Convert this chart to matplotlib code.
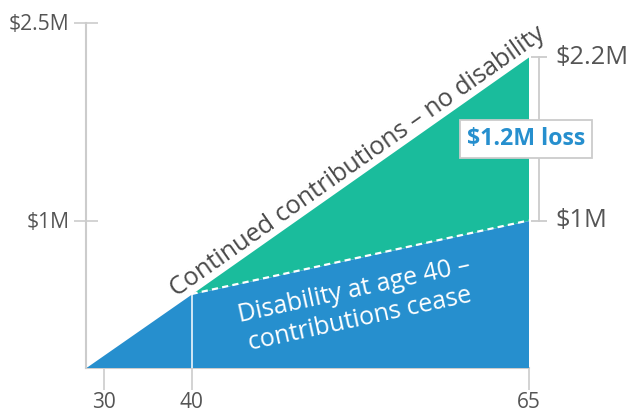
import numpy as np
import matplotlib
matplotlib.use('Agg')
import matplotlib.pyplot as plt
import matplotlib.transforms as mtransforms

# ---- data ----
ages = [28, 40, 65]
continued = [0.0, 0.5, 2.2]      # $M, contributions continue
disability = [0.0, 0.5, 1.0]     # $M, contributions cease at 40
x_ticks = [30, 40, 65]
x_tick_labels = ['30', '40', '65']
y_ticks = [1.0, 2.5]
y_tick_labels = [r'\$1M', r'\$2.5M']
end_values = [2.2, 1.0]
end_labels = [r'\$2.2M', r'\$1M']
loss_label = r'\$1.2M loss'
top_label = 'Continued contributions – no disability'
bottom_label = 'Disability at age 40 –\ncontributions cease'

# illustrative (non-uniform) axis spacing used by the original graphic
X_ANCHORS = [28, 30, 40, 65]
X_POS = [0, 17.5, 105.5, 442.5]
Y_ANCHORS = [0, 1, 2.2, 2.5]
Y_POS = [0, 147, 310.5, 345]


def piecewise(xs, ys):
    xs = np.asarray(xs, float); ys = np.asarray(ys, float)
    def f(v):
        v = np.asarray(v, float)
        out = np.interp(v, xs, ys)
        lo = v < xs[0]; hi = v > xs[-1]
        s0 = (ys[1] - ys[0]) / (xs[1] - xs[0])
        s1 = (ys[-1] - ys[-2]) / (xs[-1] - xs[-2])
        out = np.where(lo, ys[0] + (v - xs[0]) * s0, out)
        out = np.where(hi, ys[-1] + (v - xs[-1]) * s1, out)
        return out
    return f

BLUE = '#268fce'
GREEN = '#1abc9c'
GREY = '#cccccc'
TXT = '#555555'

plt.rcParams['font.family'] = ['Open Sans', 'DejaVu Sans']

fig = plt.figure(figsize=(6.28, 4.12), dpi=100)
ax = fig.add_axes([86 / 628, (412 - 367.5) / 412, (528.5 - 86) / 628, 345 / 412])
ax.set_xscale('function', functions=(piecewise(X_ANCHORS, X_POS), piecewise(X_POS, X_ANCHORS)))
ax.set_yscale('function', functions=(piecewise(Y_ANCHORS, Y_POS), piecewise(Y_POS, Y_ANCHORS)))
ax.set_xlim(ages[0], ages[-1])
ax.set_ylim(0, 2.5)

# areas
ax.fill_between(ages, disability, continued, color=GREEN, lw=0, zorder=1)
ax.fill_between(ages, 0, disability, color=BLUE, lw=0, zorder=1)
ax.plot(ages[1:], disability[1:], color='white', lw=1.6, dashes=(2.8, 1.9), zorder=3)
ax.plot([ages[1], ages[1]], [0, disability[1]], color='white', lw=1.1, zorder=3)

# axes styling
for s in ['top', 'right']:
    ax.spines[s].set_visible(False)
for s in ['left', 'bottom']:
    ax.spines[s].set_color(GREY)
    ax.spines[s].set_linewidth(1.5)
ax.spines['bottom'].set_zorder(0.5)
ax.set_xticks(x_ticks)
ax.set_xticklabels(x_tick_labels)
ax.set_yticks(y_ticks)
ax.set_yticklabels(y_tick_labels)
ax.minorticks_off()
ax.tick_params(axis='y', direction='inout', length=17, width=1.2, color=GREY,
               labelcolor=TXT, labelsize=15.2, pad=3.5)
ax.tick_params(axis='x', direction='out', length=16, width=1.2, color=GREY,
               labelcolor=TXT, labelsize=15, pad=2)

# angles in display space
def angle(p, q):
    a = ax.transData.transform(p); b = ax.transData.transform(q)
    return np.degrees(np.arctan2(b[1] - a[1], b[0] - a[0]))

ang_top = angle((ages[1], continued[1]), (ages[2], continued[2]))
ang_bot = angle((ages[1], disability[1]), (ages[2], disability[2]))

# label along the top line
xc = 52.8
yc = float(np.interp(xc, ages, continued))
th = np.radians(ang_top)
off = 3.0
ax.annotate(top_label, xy=(xc, yc), xytext=(-off * np.sin(th), off * np.cos(th)),
            textcoords='offset points', rotation=ang_top, rotation_mode='anchor',
            ha='center', va='baseline', fontsize=18.2, color='#4a4a4a', zorder=5)

# label inside the blue area
ax.text(52.3, 0.425, bottom_label, rotation=ang_bot, rotation_mode='anchor',
        ha='center', va='center', multialignment='center', fontsize=18,
        color='white', linespacing=1.2, zorder=5)

# bracket on the right
br = mtransforms.offset_copy(ax.transData, fig=fig, x=10.5, y=0, units='dots')
ax.plot([ages[-1], ages[-1]], end_values, color=GREY, lw=1.3, transform=br,
        clip_on=False, zorder=2)
ax.plot([ages[-1]] * 2, end_values, ls='none', marker='_', ms=11, mew=1.3,
        color=GREY, transform=br, clip_on=False, zorder=2)
lab = mtransforms.offset_copy(ax.transData, fig=fig, x=26.5, y=0, units='dots')
for v, t in zip(end_values, end_labels):
    ax.text(ages[-1], v, t, transform=lab, ha='left', va='center', fontsize=18.3,
            color=TXT, clip_on=False)

# loss box
ax.text(64.8, (end_values[0] + end_values[1]) / 2, loss_label, ha='center', va='center',
        fontsize=16.7, fontweight='bold', color=BLUE, clip_on=False, zorder=6,
        bbox=dict(boxstyle='square,pad=0.3', fc='white', ec=GREY, lw=1.3))

fig.savefig('out.png', dpi=100)
